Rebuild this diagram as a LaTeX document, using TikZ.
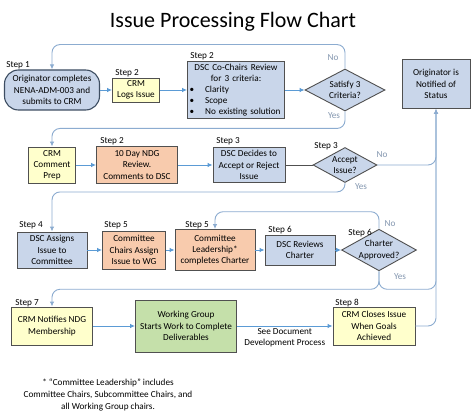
\documentclass[tikz,border=0pt]{standalone}
\usepackage{fontspec}
\setmainfont{Carlito}
\usetikzlibrary{arrows.meta,positioning,calc,shapes.geometric}
\definecolor{boxblue}{RGB}{201,214,234}
\definecolor{boxyellow}{RGB}{255,255,204}
\definecolor{boxorange}{RGB}{248,203,173}
\definecolor{boxgreen}{RGB}{197,224,170}
\definecolor{edge}{RGB}{80,80,80}
\definecolor{origedge}{RGB}{62,78,98}
\definecolor{flowblue}{RGB}{91,155,213}
\definecolor{backblue}{RGB}{140,172,208}
\definecolor{ynblue}{RGB}{132,151,176}

\begin{document}
\begin{tikzpicture}[x=1pt,y=-1pt,
    every node/.style={font=\fontsize{9.2}{11.2}\selectfont},
    box/.style={draw=edge,line width=0.9pt,align=center,inner sep=1pt},
    qbox/.style={diamond,draw=edge,line width=0.9pt,fill=boxblue,align=center,inner sep=0pt,aspect=1.8},
    steplabel/.style={inner sep=0pt},
    yn/.style={text=ynblue,inner sep=0pt},
    flow/.style={flowblue,line width=0.9pt,-{Latex[length=5pt,width=4.5pt]}},
    feedback/.style={backblue,line width=0.9pt,rounded corners=8pt,-{Latex[length=5pt,width=4.5pt]}}]
    \useasboundingbox (0,0) rectangle (474,417);
    \fill[white] (0,0) rectangle (474,417);
    \node[font=\fontsize{22}{26}\selectfont,anchor=base] (title) at (233,28) {Issue Processing Flow Chart};

    \node[box,fill=boxblue,draw=origedge,line width=1.1pt,rounded corners=14pt,minimum width=95pt,minimum height=40pt] (orig) at (52,90) {Originator completes\\NENA-ADM-003 and\\submits to CRM};
    \node[box,fill=boxyellow,minimum width=47pt,minimum height=24pt] (logs) at (136,90) {CRM\\Logs Issue};
    \node[box,fill=boxblue,inner sep=2pt,text width=93pt,align=left,minimum height=57pt] (review) at (236,90) {{\centering DSC Co-Chairs Review\\for 3 criteria:\par}\textbullet\hspace{11pt}Clarity\\\textbullet\hspace{11pt}Scope\\\textbullet\hspace{11pt}No existing solution};
    \node[qbox,minimum width=80pt,minimum height=42pt] (sat) at (345,90) {Satisfy 3\\Criteria?};
    \node[box,fill=boxblue,minimum width=68pt,minimum height=49pt] (notified) at (436,84) {Originator is\\Notified of\\Status};

    \node[box,fill=boxyellow,minimum width=47pt,minimum height=36pt] (prep) at (52,165) {CRM\\Comment\\Prep};
    \node[box,fill=boxorange,minimum width=81pt,minimum height=37pt] (ndg) at (137,165) {10 Day NDG\\Review.\\Comments to DSC};
    \node[box,fill=boxblue,minimum width=72pt,minimum height=35pt] (decide) at (249,165) {DSC Decides to\\Accept or Reject\\Issue};
    \node[qbox,minimum width=64pt,minimum height=35pt] (accept) at (345,165) {Accept\\Issue?};

    \node[box,fill=boxblue,minimum width=70pt,minimum height=36pt] (assign) at (52,250) {DSC Assigns\\Issue to\\Committee};
    \node[box,fill=boxorange,minimum width=63pt,minimum height=38pt] (chairs) at (134,250) {Committee\\Chairs Assign\\Issue to WG};
    \node[box,fill=boxorange,minimum width=80pt,minimum height=41pt] (leader) at (215,250) {Committee\\Leadership*\\completes Charter};
    \node[box,fill=boxblue,minimum width=70pt,minimum height=30pt] (reviews) at (300,250) {DSC Reviews\\Charter};
    \node[qbox,minimum width=73pt,minimum height=40pt] (approved) at (379,250) {Charter\\Approved?};

    \node[box,fill=boxyellow,minimum width=81pt,minimum height=38pt] (notifies) at (52,326) {CRM Notifies NDG\\Membership};
    \node[box,fill=boxgreen,minimum width=101pt,minimum height=52pt] (wg) at (186,326) {Working Group\\Starts Work to Complete\\Deliverables};
    \node[box,fill=boxyellow,minimum width=82pt,minimum height=38pt] (closes) at (374,326) {CRM Closes Issue\\When Goals\\Achieved};

    \node[steplabel] (s1) at (18,65) {Step 1};
    \node[steplabel] (s2a) at (127,73) {Step 2};
    \node[steplabel] (s2b) at (202,56) {Step 2};
    \node[steplabel] (s2c) at (112,141) {Step 2};
    \node[steplabel] (s3a) at (228,141) {Step 3};
    \node[steplabel] (s3b) at (326,146) {Step 3};
    \node[steplabel] (s4) at (31,225) {Step 4};
    \node[steplabel] (s5a) at (116,225) {Step 5};
    \node[steplabel] (s5b) at (197,225) {Step 5};
    \node[steplabel] (s6a) at (280,230) {Step 6};
    \node[steplabel] (s6b) at (360,233) {Step 6};
    \node[steplabel] (s7) at (27,303) {Step 7};
    \node[steplabel] (s8) at (347,303) {Step 8};

    \draw[flow] (orig) -- (logs);
    \draw[flow] (logs) -- (review);
    \draw[flow] (review) -- (sat);
    \draw[feedback] (sat.north) -- ++(0,-24) -| (orig.north);
    \draw[feedback] (sat.south) -- ++(0,17) -| (prep.north);
    \draw[flow] (prep) -- (ndg);
    \draw[flow] (ndg) -- (decide);
    \draw[edge,line width=0.9pt] (decide) -- (accept);
    \draw[feedback] (accept.east) -| (notified.south);
    \draw[feedback] (accept.south) -- ++(0,9) -| (assign.north);
    \draw[flow] (assign) -- (chairs);
    \draw[flow] (chairs) -- (leader);
    \draw[flow] (leader) -- (reviews);
    \draw[flow] (reviews) -- (approved);
    \draw[feedback] (approved.north) -- ++(0,-17) -| (leader.north);
    \draw[feedback] (approved.south) -- ++(0,18) -| (notifies.north);
    \draw[feedback] (approved.south) -- ++(0,18) -| (notified.south);
    \draw[flow] (notifies) -- (wg);
    \draw[flow] (wg) -- node[below=1pt,align=center,inner sep=1pt,text=black] (see) {See Document\\Development Process} (closes);
    \draw[feedback] (closes.east) -| (notified.south);

    \node[yn] (satno) at (333,58) {No};
    \node[yn] (satyes) at (334,116) {Yes};
    \node[yn] (accno) at (382,155) {No};
    \node[yn] (accyes) at (361,187) {Yes};
    \node[yn] (appno) at (390,224) {No};
    \node[yn] (appyes) at (400,277) {Yes};

    \node[align=center,font=\fontsize{9.2}{12}\selectfont] (note) at (108,395) {* “Committee Leadership” includes\\Committee Chairs, Subcommittee Chairs, and\\all Working Group chairs.};
\end{tikzpicture}
\end{document}
